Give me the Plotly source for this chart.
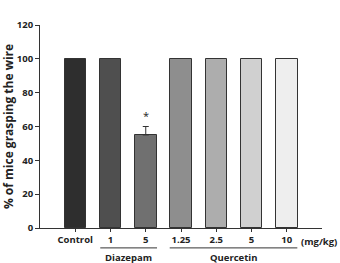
import plotly.graph_objects as go

categories = ["Control", "1", "5", "1.25", "2.5", "5 ", "10"]
values = [100, 100, 55, 100, 100, 100, 100]
err_index = 2
err_value = 5
colors = ["#2e2e2e", "#4f4f4f", "#707070", "#8e8e8e", "#adadad", "#d0d0d0", "#eeeeee"]
y_ticks = [0, 20, 40, 60, 80, 100, 120]

font = "Open Sans"
fig = go.Figure()
fig.add_trace(go.Bar(
    x=list(range(len(categories))), y=values,
    marker=dict(color=colors, line=dict(color="#333333", width=1)),
    width=0.61,
))
fig.add_trace(go.Scatter(
    x=[err_index], y=[values[err_index]], mode="markers",
    marker=dict(size=1, color="rgba(0,0,0,0)"),
    error_y=dict(type="data", array=[err_value], arrayminus=[0], symmetric=False,
                 visible=True, color="#333333", thickness=1, width=3),
    hoverinfo="skip",
))

fig.add_annotation(x=err_index, y=values[err_index] + err_value + 1, text="*", showarrow=False,
                   yanchor="bottom", font=dict(family=font, size=11, color="#222"))

# group lines and labels
fig.add_shape(type="line", xref="x", yref="paper", x0=0.71, x1=2.32, y0=-0.098, y1=-0.098,
              line=dict(color="#333333", width=1))
fig.add_shape(type="line", xref="x", yref="paper", x0=2.68, x1=6.3, y0=-0.098, y1=-0.098,
              line=dict(color="#333333", width=1))
fig.add_annotation(x=1.5, y=-0.143, xref="x", yref="paper", text="<b>Diazepam</b>", showarrow=False,
                   font=dict(family=font, size=9.5, color="#222"), yanchor="middle")
fig.add_annotation(x=4.5, y=-0.143, xref="x", yref="paper", text="<b>Quercetin</b>", showarrow=False,
                   font=dict(family=font, size=9.5, color="#222"), yanchor="middle")
fig.add_annotation(x=6.35, y=-0.065, xref="x", yref="paper", text="<b>(mg/kg)</b>", showarrow=False,
                   font=dict(family=font, size=9.5, color="#222"), xanchor="left", yanchor="middle")

fig.update_layout(
    width=340, height=263,
    margin=dict(l=40, r=18, t=25, b=35),
    plot_bgcolor="white", paper_bgcolor="white",
    showlegend=False,
    bargap=0,
    xaxis=dict(range=[-1, 7], tickmode="array", tickvals=list(range(len(categories))),
               ticktext=["<b>%s</b>" % c.strip() for c in categories],
               showline=True, linecolor="#333333", linewidth=1,
               ticks="outside", ticklen=3, tickcolor="#333333", automargin=False,
               tickfont=dict(family=font, size=9.5, color="#222"), showgrid=False, zeroline=False),
    yaxis=dict(range=[0, 120], tickvals=y_ticks, ticktext=["<b>%d</b>" % v for v in y_ticks],
               showline=True, linecolor="#333333", linewidth=1,
               ticks="outside", ticklen=4, tickcolor="#333333", automargin=False,
               tickfont=dict(family=font, size=9.5, color="#222"), showgrid=False, zeroline=False,
               title=dict(text="<b>% of mice grasping the wire</b>", font=dict(family=font, size=12, color="#222"),
                          standoff=5)),
)

fig.write_html("out.html")
